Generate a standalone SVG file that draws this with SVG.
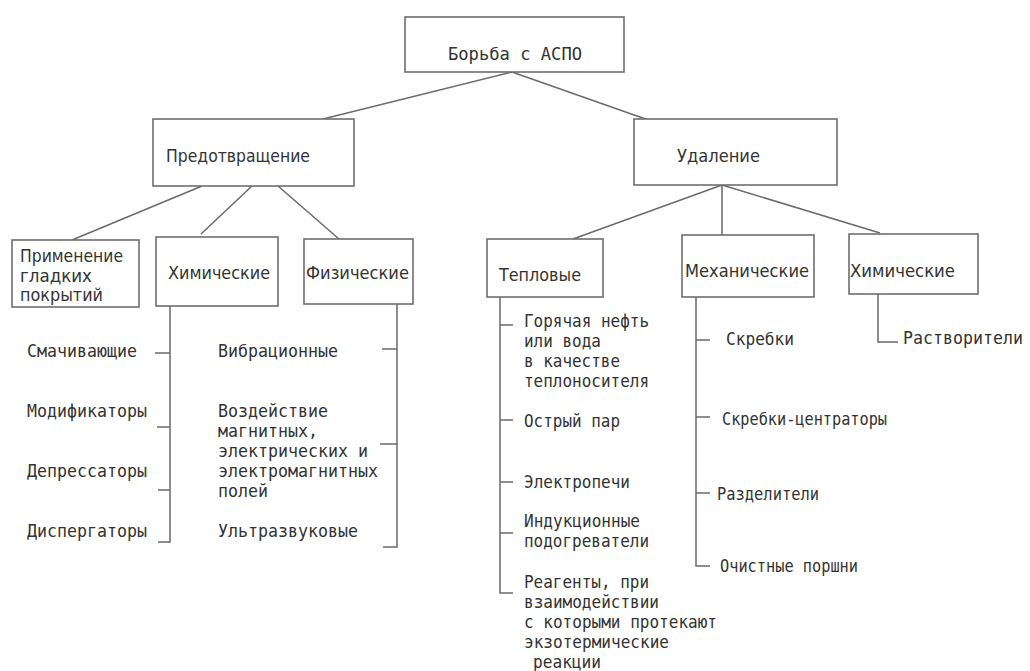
<svg xmlns="http://www.w3.org/2000/svg" width="1030" height="671" viewBox="0 0 1030 671">
<style>
.box{fill:#fff;stroke:#6e6e6e;stroke-width:1.6}
.lbl{font-family:"DejaVu Sans",sans-serif;font-size:18px;fill:#333}
.top{font-family:"DejaVu Sans Mono",monospace;font-size:18px;fill:#333}
.li{font-family:"DejaVu Sans Mono",monospace;font-size:18px;fill:#333}
.c{fill:none;stroke:#6a6a6a;stroke-width:1.5}
</style>
<rect width="1030" height="671" fill="#fff"/>
<g id="connectors">
<path class="c" d="M512,72 L323,119 M512,72 L654,122"/>
<path class="c" d="M202,186 L72,240 M252,186 L201,234 M278,186 L339,239"/>
<path class="c" d="M722,185 L573,239 M722,185 L722,235 M722,185 L880,233"/>
<path class="c" d="M170,306 V542 H158 M170,353 H155 M170,427 H157 M170,490 H158"/>
<path class="c" d="M397,304 V547 H383 M397,349 H382 M397,444 H380"/>
<path class="c" d="M500,297 V593 H513 M500,325 H513 M500,420 H513 M500,482 H513 M500,533 H513"/>
<path class="c" d="M696,297 V566 H710 M696,340 H710 M696,417 H710 M696,493 H710"/>
<path class="c" d="M878,294 V342 H898"/>
</g>
<g id="n-root"><rect class="box" x="405" y="17" width="219" height="55"/><text class="top" x="448" y="60" textLength="134" lengthAdjust="spacingAndGlyphs">Борьба с АСПО</text></g>
<g id="n-prev"><rect class="box" x="153" y="119" width="201" height="67"/><text class="lbl" x="166" y="162" textLength="144" lengthAdjust="spacingAndGlyphs">Предотвращение</text></g>
<g id="n-rem"><rect class="box" x="634" y="119" width="203" height="66"/><text class="lbl" x="677" y="162" textLength="83" lengthAdjust="spacingAndGlyphs">Удаление</text></g>
<g id="n-smooth"><rect class="box" x="12" y="240" width="127" height="67"/><text class="lbl" x="20" y="262" textLength="103" lengthAdjust="spacingAndGlyphs">Применение</text><text class="lbl" x="20" y="282" textLength="72" lengthAdjust="spacingAndGlyphs">гладких</text><text class="lbl" x="20" y="301" textLength="83" lengthAdjust="spacingAndGlyphs">покрытий</text></g>
<g id="n-chem1"><rect class="box" x="156" y="237" width="122" height="69"/><text class="lbl" x="168" y="279" textLength="102" lengthAdjust="spacingAndGlyphs">Химические</text></g>
<g id="n-phys"><rect class="box" x="304" y="239" width="109" height="65"/><text class="lbl" x="306" y="279" textLength="103" lengthAdjust="spacingAndGlyphs">Физические</text></g>
<g id="n-heat"><rect class="box" x="487" y="239" width="116" height="58"/><text class="lbl" x="499" y="281" textLength="82" lengthAdjust="spacingAndGlyphs">Тепловые</text></g>
<g id="n-mech"><rect class="box" x="682" y="235" width="132" height="62"/><text class="lbl" x="685" y="277" textLength="124" lengthAdjust="spacingAndGlyphs">Механические</text></g>
<g id="n-chem2"><rect class="box" x="849" y="234" width="129" height="60"/><text class="lbl" x="850" y="277" textLength="105" lengthAdjust="spacingAndGlyphs">Химические</text></g>
<g id="items-chem1">
<text class="li" x="27" y="357" textLength="110" lengthAdjust="spacingAndGlyphs">Смачивающие</text>
<text class="li" x="27" y="417" textLength="120" lengthAdjust="spacingAndGlyphs">Модификаторы</text>
<text class="li" x="27" y="477" textLength="120" lengthAdjust="spacingAndGlyphs">Депрессаторы</text>
<text class="li" x="27" y="537" textLength="120" lengthAdjust="spacingAndGlyphs">Диспергаторы</text>
</g>
<g id="items-phys">
<text class="li" x="218" y="357" textLength="120" lengthAdjust="spacingAndGlyphs">Вибрационные</text>
<text class="li" x="218" y="417" textLength="110" lengthAdjust="spacingAndGlyphs">Воздействие</text>
<text class="li" x="218" y="437" textLength="100" lengthAdjust="spacingAndGlyphs">магнитных,</text>
<text class="li" x="218" y="457" textLength="150" lengthAdjust="spacingAndGlyphs">электрических и</text>
<text class="li" x="218" y="477" textLength="160" lengthAdjust="spacingAndGlyphs">электромагнитных</text>
<text class="li" x="218" y="497" textLength="50" lengthAdjust="spacingAndGlyphs">полей</text>
<text class="li" x="218" y="537" textLength="140" lengthAdjust="spacingAndGlyphs">Ультразвуковые</text>
</g>
<g id="items-heat">
<text class="li" x="524" y="327" textLength="125" lengthAdjust="spacingAndGlyphs">Горячая нефть</text>
<text class="li" x="524" y="347" textLength="77" lengthAdjust="spacingAndGlyphs">или вода</text>
<text class="li" x="524" y="367" textLength="96" lengthAdjust="spacingAndGlyphs">в качестве</text>
<text class="li" x="524" y="387" textLength="125" lengthAdjust="spacingAndGlyphs">теплоносителя</text>
<text class="li" x="524" y="427" textLength="96" lengthAdjust="spacingAndGlyphs">Острый пар</text>
<text class="li" x="524" y="488" textLength="106" lengthAdjust="spacingAndGlyphs">Электропечи</text>
<text class="li" x="524" y="527" textLength="116" lengthAdjust="spacingAndGlyphs">Индукционные</text>
<text class="li" x="524" y="547" textLength="125" lengthAdjust="spacingAndGlyphs">подогреватели</text>
<text class="li" x="524" y="588" textLength="125" lengthAdjust="spacingAndGlyphs">Реагенты, при</text>
<text class="li" x="524" y="608" textLength="135" lengthAdjust="spacingAndGlyphs">взаимодействии</text>
<text class="li" x="524" y="628" textLength="193" lengthAdjust="spacingAndGlyphs">с которыми протекают</text>
<text class="li" x="524" y="648" textLength="145" lengthAdjust="spacingAndGlyphs">экзотермические</text>
<text class="li" x="533" y="668" textLength="68" lengthAdjust="spacingAndGlyphs">реакции</text>
</g>
<g id="items-mech">
<text class="li" x="726" y="345" textLength="68" lengthAdjust="spacingAndGlyphs">Скребки</text>
<text class="li" x="722" y="425" textLength="165" lengthAdjust="spacingAndGlyphs">Скребки-центраторы</text>
<text class="li" x="717" y="500" textLength="102" lengthAdjust="spacingAndGlyphs">Разделители</text>
<text class="li" x="720" y="572" textLength="138" lengthAdjust="spacingAndGlyphs">Очистные поршни</text>
</g>
<g id="items-chem2"><text class="li" x="903" y="344" style="font-size:17px" textLength="120" lengthAdjust="spacingAndGlyphs">Растворители</text></g>
</svg>
